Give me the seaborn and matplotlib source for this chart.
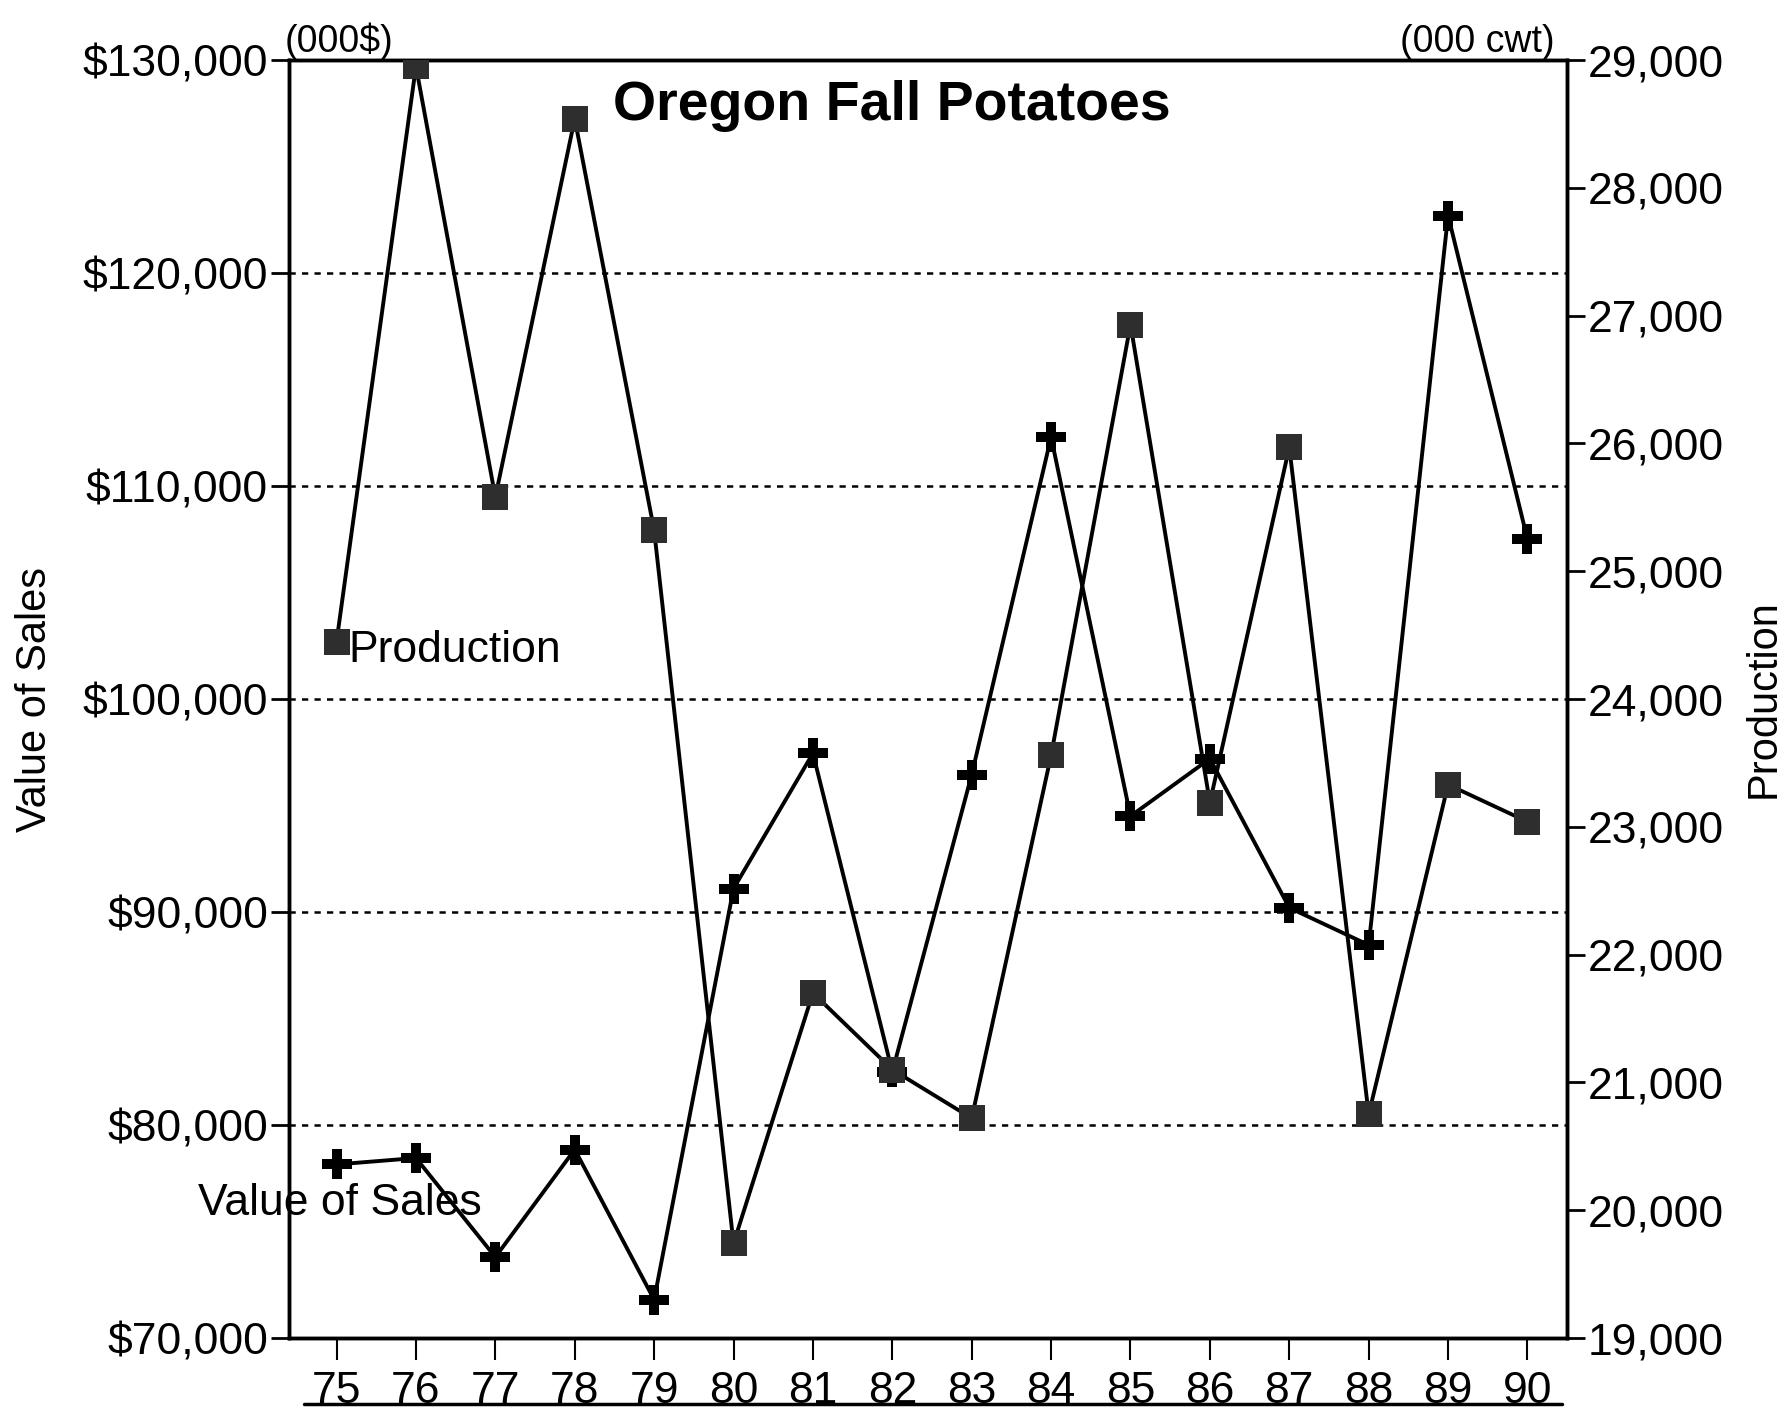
import matplotlib
matplotlib.use("Agg")
import matplotlib.pyplot as plt
import matplotlib.ticker as mticker
from matplotlib.lines import Line2D
import seaborn as sns
import pandas as pd

# data
years = [75, 76, 77, 78, 79, 80, 81, 82, 83, 84, 85, 86, 87, 88, 89, 90]
value_of_sales = [78150, 78450, 73800, 78850, 71800, 91100, 97450, 82500,
                  96450, 112300, 94500, 97200, 90200, 88450, 122700, 107500]
production = [24450, 28950, 25580, 28540, 25320, 19740, 21700, 21100,
              20720, 23560, 26930, 23190, 25970, 20750, 23330, 23040]

left_ticks = [70000, 80000, 90000, 100000, 110000, 120000, 130000]
right_ticks = [19000, 20000, 21000, 22000, 23000, 24000, 25000, 26000, 27000, 28000, 29000]

df = pd.DataFrame({"year": years, "sales": value_of_sales, "prod": production})

sns.set_style("ticks")
plt.rcParams['font.family'] = ['Liberation Sans', 'DejaVu Sans']
plt.rcParams['axes.linewidth'] = 2.5
# plain black text and ticks, like the print
for k in ['text.color', 'axes.labelcolor', 'xtick.color', 'ytick.color', 'axes.edgecolor']:
    plt.rcParams[k] = 'black'

fig = plt.figure(figsize=(17.89, 14.12), dpi=100)
ax = fig.add_axes([0.1615, 0.0524, 0.876 - 0.1615, 0.9575 - 0.0524])
ax2 = ax.twinx()

# value of sales (left axis)
sns.lineplot(data=df, x="year", y="sales", ax=ax, color="black", linewidth=2.8,
             marker="P", markersize=21, markeredgewidth=0, zorder=3)
# production (right axis)
sns.lineplot(data=df, x="year", y="prod", ax=ax2, color="black", linewidth=2.8,
             marker="s", markersize=19, markerfacecolor="#2e2e2e",
             markeredgewidth=0, zorder=3)

ax.set_xlim(74.4, 90.5)
ax.set_ylim(70000, 130000)
ax2.set_ylim(19000, 29000)

ax.set_xticks(years)
ax.set_xticklabels([str(y) for y in years])
ax.set_yticks(left_ticks)
ax.yaxis.set_major_formatter(mticker.FuncFormatter(lambda v, p: "${:,.0f}".format(v)))
ax2.set_yticks(right_ticks)
ax2.yaxis.set_major_formatter(mticker.FuncFormatter(lambda v, p: "{:,.0f}".format(v)))

ax.tick_params(axis="y", labelsize=32, length=13, width=2, pad=2)
ax.tick_params(axis="x", labelsize=32, length=16, width=1.5, pad=8)
ax2.tick_params(axis="y", labelsize=32, length=13, width=2, pad=2)

ax.grid(axis="y", color="black", linestyle=(0, (2.5, 2.5)), linewidth=1.8)
ax.set_axisbelow(True)

for a in (ax, ax2):
    for s in a.spines.values():
        s.set_visible(True)
        s.set_color("black")
        s.set_linewidth(2.5)

ax.set_xlabel("")
ax.set_ylabel("Value of Sales", fontsize=30, labelpad=20)
ax2.set_ylabel("Production", fontsize=30, labelpad=14)

# title and unit notes
ax.text(0.472, 0.964, "Oregon Fall Potatoes", transform=ax.transAxes,
        ha="center", va="center", fontsize=40, fontweight="bold")
ax.text(-0.003, 1.0, "(000$)", transform=ax.transAxes, ha="left", va="bottom",
        fontsize=27)
ax.text(0.99, 1.0, "(000 cwt)", transform=ax.transAxes, ha="right", va="bottom",
        fontsize=27)

# series labels in the plot
ax2.text(75.15, 24380, "Production", ha="left", va="center", fontsize=32)
ax.text(73.26, 76300, "Value of Sales", ha="left", va="center", fontsize=32,
        clip_on=False, zorder=5)

# rule under the year labels
fig.add_artist(Line2D([0.17, 0.873], [0.006, 0.006], color="black", linewidth=2.5))

fig.savefig("out.png", dpi=100)
